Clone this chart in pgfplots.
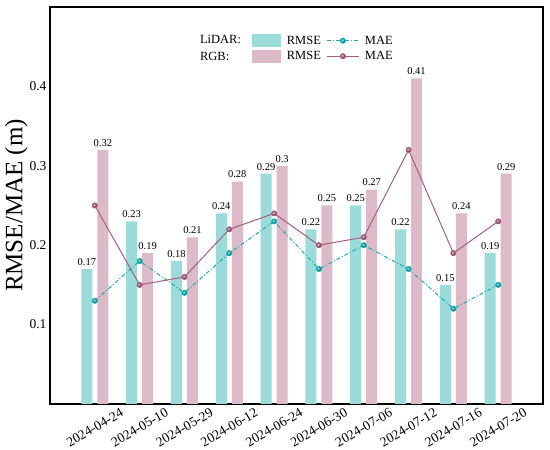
\documentclass[border=0pt]{standalone}
\usepackage{fontspec}
\setmainfont{Liberation Serif}
\usepackage{pgfplots}
\pgfplotsset{compat=1.18}
\pgfkeys{/pgf/number format/assume math mode=true}
\definecolor{barT}{HTML}{9BDCDA}
\definecolor{barP}{HTML}{DCBAC7}
\definecolor{lineT}{HTML}{17ADB0}
\definecolor{lineP}{HTML}{A85E7E}
\pgfplotsset{
  barleg/.style={legend image code/.code={\fill[#1] (0pt,-6.5pt) rectangle (29pt,6.5pt);}},
  lineleg/.style={legend image code/.code={\draw[mark repeat=2,mark phase=2,##1] plot coordinates {(0pt,0pt) (16pt,0pt) (32pt,0pt)};}},
}
\begin{document}
\begin{tikzpicture}
\begin{axis}[
  scale only axis, width=493pt, height=397pt,
  xmin=-1, xmax=10, ymin=0, ymax=0.5,
  xtick={0,...,9},
  xticklabels={2024-04-24,2024-05-10,2024-05-29,2024-06-12,2024-06-24,2024-06-30,2024-07-06,2024-07-12,2024-07-16,2024-07-20},
  ytick={0.1,0.2,0.3,0.4},
  yticklabel style={/pgf/number format/fixed, /pgf/number format/precision=1, /pgf/number format/assume math mode=true},
  /pgf/number format/assume math mode=true,
  tick style={draw=none},
  tick label style={font=\fontsize{13.5}{15}\selectfont},
  xticklabel style={yshift=-23.5pt, rotate=30, anchor=center},
  ylabel={RMSE/MAE (m)},
  ylabel style={font=\fontsize{25}{28}\selectfont, at={(axis description cs:-0.038,0.5)}, anchor=south},
  axis line style={line width=1.1pt},
  legend columns=2, transpose legend,
  legend style={at={(rel axis cs:0.404,0.937)}, anchor=north west, draw=none, fill=none,
    font=\fontsize{12.5}{14}\selectfont, row sep=2.5pt, column sep=4pt,
    nodes={inner sep=1.5pt}},
  every node near coord/.style={font=\fontsize{10.5}{12}\selectfont, text=black, /pgf/number format/precision=2, /pgf/number format/assume math mode=true},
]
\coordinate (ll) at (rel axis cs:0,0);
\coordinate (ur) at (rel axis cs:1,1);
\addplot[ybar, bar width=11pt, bar shift=-8pt, fill=barT, draw=none, nodes near coords,
  every node near coord/.append style={xshift=-8pt}, barleg=barT]
  coordinates {(0,0.17) (1,0.23) (2,0.18) (3,0.24) (4,0.29) (5,0.22) (6,0.25) (7,0.22) (8,0.15) (9,0.19)};
\addlegendentry{RMSE}
\addplot[ybar, bar width=11pt, bar shift=8pt, fill=barP, draw=none, nodes near coords,
  every node near coord/.append style={xshift=8pt}, barleg=barP]
  coordinates {(0,0.32) (1,0.19) (2,0.21) (3,0.28) (4,0.30) (5,0.25) (6,0.27) (7,0.41) (8,0.24) (9,0.29)};
\addlegendentry{RMSE}
\addplot[lineT, line width=1pt, dash pattern=on 4pt off 2pt on 1pt off 2pt,
  mark=ball, mark size=2.5pt, mark options={solid, ball color=lineT}, lineleg]
  coordinates {(0,0.13) (1,0.18) (2,0.14) (3,0.19) (4,0.23) (5,0.17) (6,0.20) (7,0.17) (8,0.12) (9,0.15)};
\addlegendentry{MAE}
\addplot[lineP, line width=1pt, solid,
  mark=ball, mark size=2.5pt, mark options={solid, ball color=lineP}, lineleg]
  coordinates {(0,0.25) (1,0.15) (2,0.16) (3,0.22) (4,0.24) (5,0.20) (6,0.21) (7,0.32) (8,0.19) (9,0.23)};
\addlegendentry{MAE}
\node[anchor=west, font=\fontsize{12.5}{14}\selectfont, inner sep=0pt] at (rel axis cs:0.304,0.917) {LiDAR:};
\node[anchor=west, font=\fontsize{12.5}{14}\selectfont, inner sep=0pt] at (rel axis cs:0.304,0.876) {RGB:};
\end{axis}
\pgfresetboundingbox
\path ([shift={(-50pt,-46pt)}]ll) rectangle ([shift={(7pt,7pt)}]ur);
\end{tikzpicture}
\end{document}
